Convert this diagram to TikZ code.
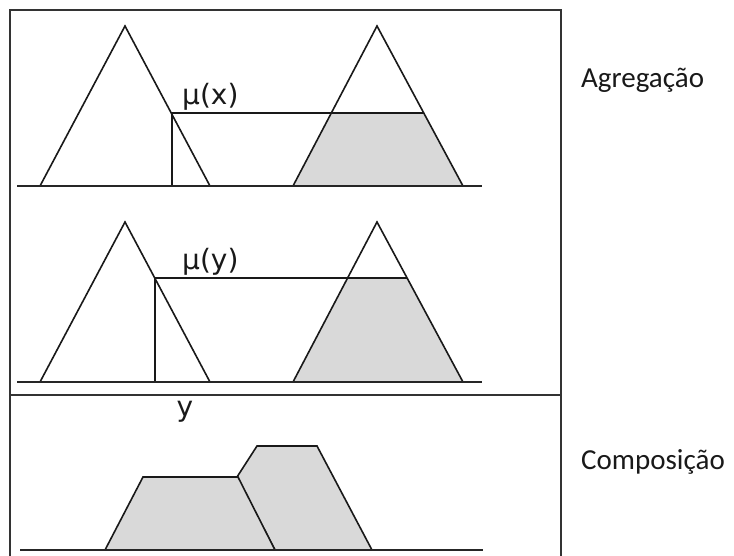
\documentclass[tikz,border=0pt]{standalone}
\usepackage{fontspec}
\setmainfont{Carlito}
\newfontfamily\mufont{DejaVu Sans}
\usetikzlibrary{positioning}

\begin{document}
\begin{tikzpicture}[
x=1pt, y=-1pt,
frame/.style={draw=black!80, line width=1.6pt},
axis/.style={draw=black!85, line width=1.5pt},
memb/.style={draw=black!90, line width=1.6pt, line join=miter},
shade/.style={fill=gray!30},
mulabel/.style={font=\mufont\fontsize{28}{32}\selectfont, inner sep=0pt, text=black!90},
side/.style={font=\fontsize{29}{34}\selectfont, inner sep=0pt, anchor=west, text=black!90}
]
\useasboundingbox (0,0) rectangle (734,555);

% outer frame and divider
\draw[frame] (10,556) -- (10,10) -- (561,10) -- (561,556);
\draw[frame] (10,395) -- (561,395);

% aggregation, first rule
\fill[shade] (331,113) -- (424,113) -- (463,186) -- (293,186) -- cycle;
\draw[memb] (40,186) -- (125,26) -- (210,186);
\draw[memb] (293,186) -- (377,26) -- (463,186);
\draw[memb] (172,186) -- (172,113) -- (424,113);
\draw[axis] (17,186) -- (482,186);
\node[mulabel, anchor=south west] (mux) at (182,111) {μ(x)};

% aggregation, second rule
\fill[shade] (348,278) -- (407,278) -- (463,382) -- (293,382) -- cycle;
\draw[memb] (40,382) -- (125,222) -- (210,382);
\draw[memb] (293,382) -- (377,222) -- (463,382);
\draw[memb] (155,382) -- (155,278) -- (407,278);
\draw[axis] (17,382) -- (482,382);
\node[mulabel, anchor=south west] (muy) at (182,276) {μ(y)};

% composition
\filldraw[shade, memb] (237,477) -- (257,446) -- (317,446) -- (372,550) -- (275,550) -- cycle;
\filldraw[shade, memb] (105,550) -- (143,477) -- (238,477) -- (275,550) -- cycle;
\draw[axis] (20,550) -- (483,550);
\node[mulabel] (yout) at (185,412) {y};

% side labels
\node[side] (agreg) at (581,80) {Agregação};
\node[side] (compos) at (581,462) {Composição};
\end{tikzpicture}
\end{document}
